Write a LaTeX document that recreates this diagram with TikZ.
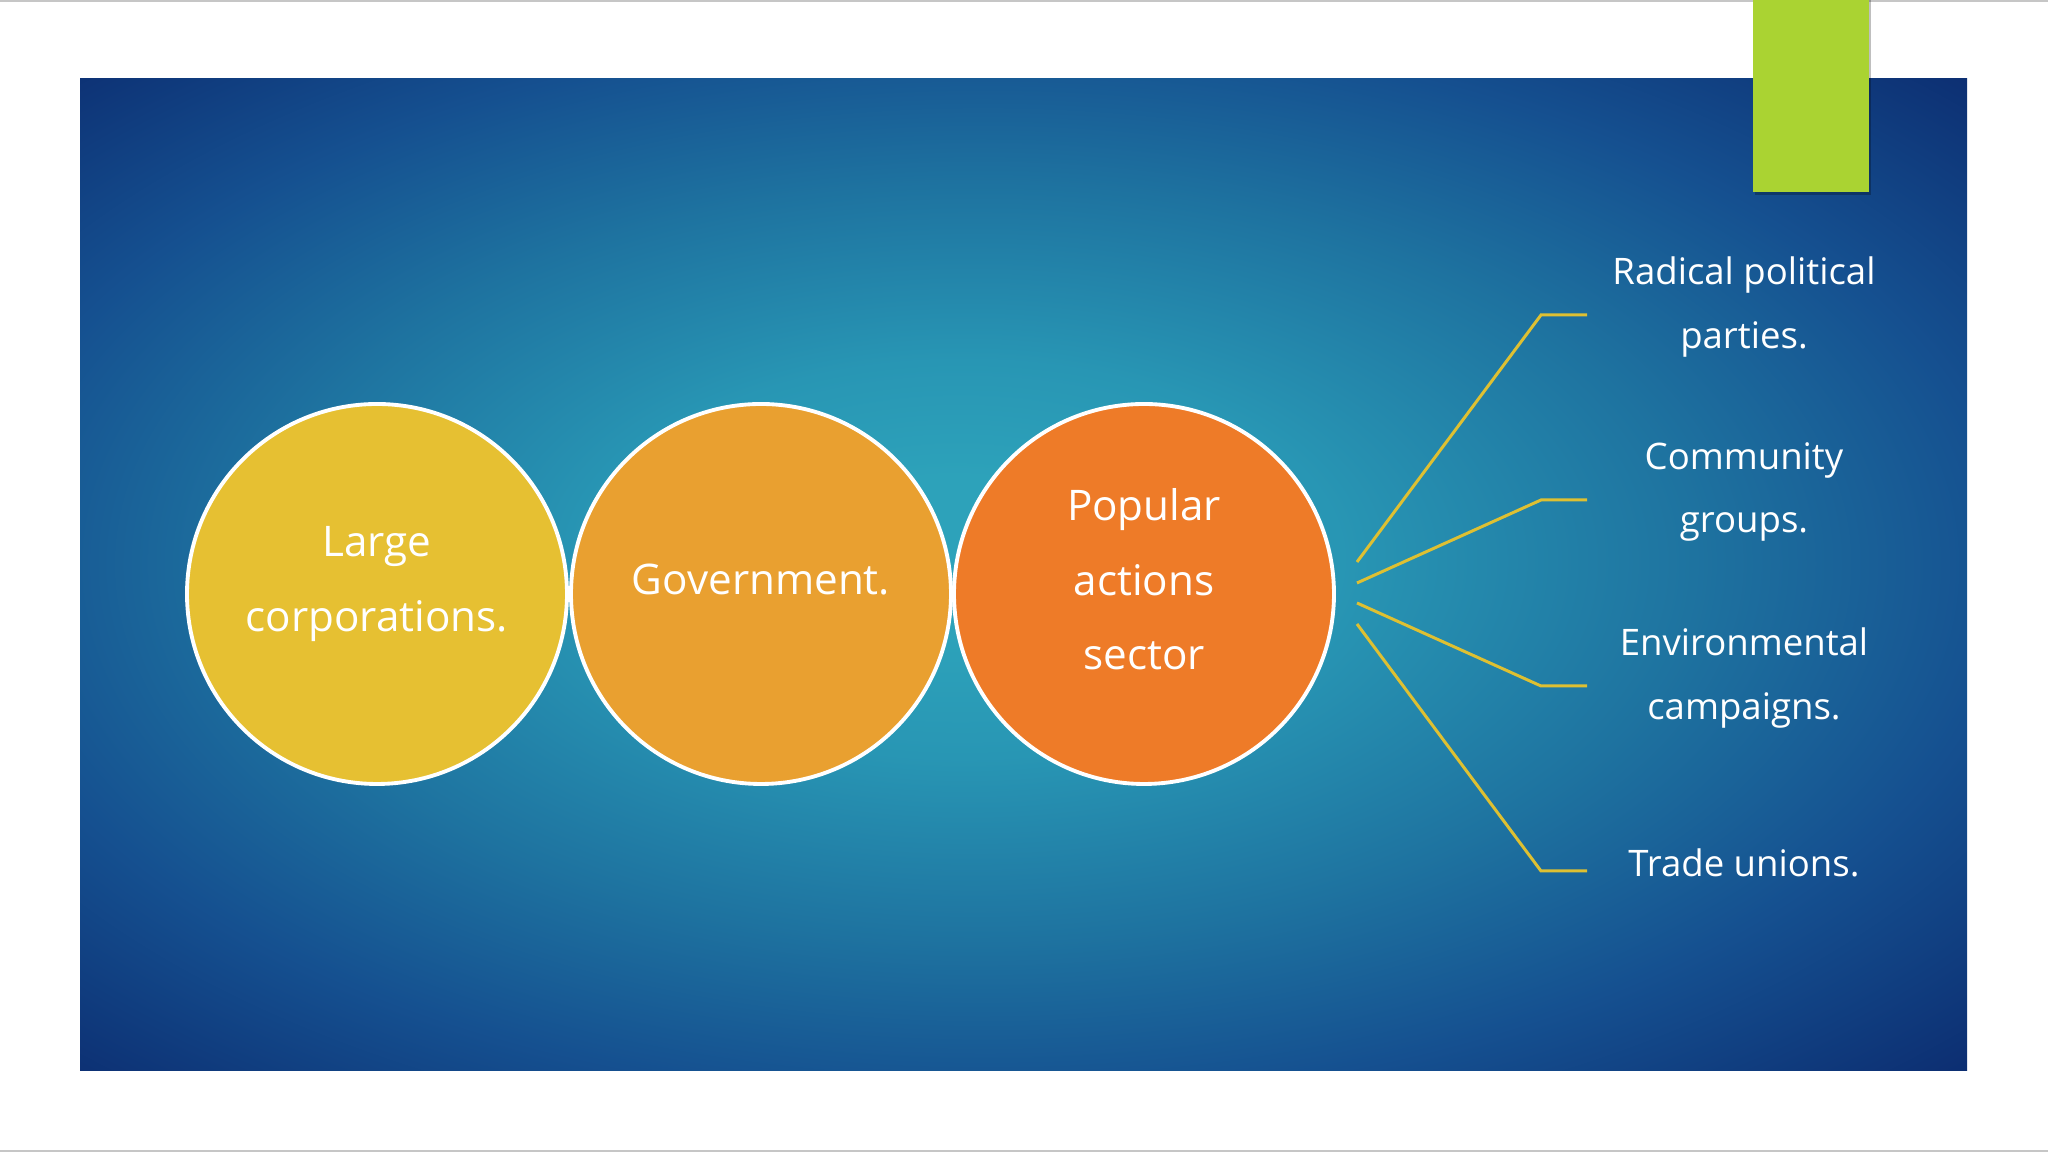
\documentclass[tikz,border=0pt]{standalone}
\usepackage{fontspec}
\setmainfont{Open Sans}
\usepackage{tikz}

\definecolor{bgin}{RGB}{45,162,186}
\definecolor{bgin2}{RGB}{40,150,180}
\definecolor{bgmid}{RGB}{30,115,160}
\definecolor{bgedge}{RGB}{21,80,144}
\definecolor{bgout}{RGB}{11,42,110}
\definecolor{lime}{RGB}{170,211,50}
\definecolor{cyellow}{RGB}{230,192,50}
\definecolor{cgold}{RGB}{233,160,48}
\definecolor{corange}{RGB}{238,123,40}
\definecolor{branch}{RGB}{222,192,50}

\pgfdeclareradialshading{slidebg}{\pgfpoint{-2bp}{1bp}}{%
  color(0bp)=(bgin); color(4bp)=(bgin); color(10bp)=(bgin2);
  color(19bp)=(bgmid); color(27bp)=(bgedge); color(37bp)=(bgout);
  color(50bp)=(bgout)}

\begin{document}
\begin{tikzpicture}[
    bubble/.style={circle,draw=white,line width=1.1pt,minimum size=3.8cm,
        text=white,align=center,text depth=0.3cm,
        font=\fontsize{12}{21.3}\selectfont},
    item/.style={text=white,align=center,font=\fontsize{10.4}{18.2}\selectfont},
    twig/.style={draw=branch,line width=0.85pt}]
    \useasboundingbox(0,0)rectangle(20.48,11.52);
    \fill[white](0,0)rectangle(20.48,11.52);
    \draw[gray!45,line width=0.6pt](0,11.51)--(20.48,11.51);
    \draw[gray!45,line width=0.6pt](0,0.01)--(20.48,0.01);

    \shade[shading=slidebg](0.80,0.81)rectangle(19.67,10.73);
    \fill[black,opacity=0.25](17.55,9.57)rectangle(18.71,11.52);
    \fill[lime](17.53,9.60)rectangle(18.69,11.52);

    \node[bubble,fill=cyellow](large)at(3.77,5.58){Large\\corporations.};
    \node[bubble,fill=cgold](gov)at(7.61,5.58){Government.};
    \node[bubble,fill=corange](pop)at(11.44,5.58){Popular\\actions\\sector};

    \coordinate(s1)at(13.57,5.90);
    \coordinate(s2)at(13.57,5.69);
    \coordinate(s3)at(13.57,5.49);
    \coordinate(s4)at(13.57,5.28);
    \coordinate(k1)at(15.41,8.37);
    \coordinate(k2)at(15.41,6.52);
    \coordinate(k3)at(15.41,4.66);
    \coordinate(k4)at(15.41,2.81);
    \coordinate(e1)at(15.87,8.37);
    \coordinate(e2)at(15.87,6.52);
    \coordinate(e3)at(15.87,4.66);
    \coordinate(e4)at(15.87,2.81);

    \draw[twig](s1)--(k1)--(e1);
    \draw[twig](s2)--(k2)--(e2);
    \draw[twig](s3)--(k3)--(e3);
    \draw[twig](s4)--(k4)--(e4);

    \node[item](radical)at(17.44,8.45){Radical political\\parties.};
    \node[item](community)at(17.44,6.60){Community\\groups.};
    \node[item](environ)at(17.44,4.74){Environmental\\campaigns.};
    \node[item](unions)at(17.44,2.89){Trade unions.};
\end{tikzpicture}
\end{document}
